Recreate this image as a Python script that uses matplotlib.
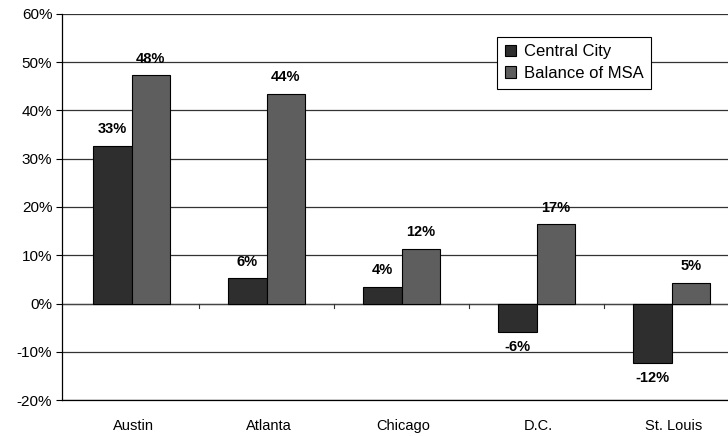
import numpy as np
import matplotlib.pyplot as plt

cities = ['Austin', 'Atlanta', 'Chicago', 'D.C.', 'St. Louis']
central_city = [32.7, 5.2, 3.5, -5.9, -12.3]
balance_msa = [47.3, 43.5, 11.3, 16.4, 4.3]
central_labels = ['33%', '6%', '4%', '-6%', '-12%']
balance_labels = ['48%', '44%', '12%', '17%', '5%']
yticks = [-20, -10, 0, 10, 20, 30, 40, 50, 60]

plt.rcParams['font.family'] = ['Liberation Sans', 'DejaVu Sans']

fig = plt.figure(figsize=(7.28, 4.36), dpi=100)
# plot area runs a little past the right edge of the picture, as in the original
ax = fig.add_axes([62 / 728, 36 / 436, 677 / 728, 386 / 436])

x = np.arange(len(cities))
w = 0.286
b1 = ax.bar(x - w / 2, central_city, w, color='#2e2e2e', edgecolor='black',
            linewidth=0.8, label='Central City', zorder=3)
b2 = ax.bar(x + w / 2, balance_msa, w, color='#5e5e5e', edgecolor='black',
            linewidth=0.8, label='Balance of MSA', zorder=3)

for bars, labels in ((b1, central_labels), (b2, balance_labels)):
    for rect, lab in zip(bars, labels):
        h = rect.get_height()
        off = 12 if h >= 0 else -11
        ax.annotate(lab, (rect.get_x() + rect.get_width() / 2, h),
                    xytext=(0, off), textcoords='offset points',
                    ha='center', va='center', fontsize=10.5, fontweight='bold',
                    zorder=4)

ax.set_xlim(-0.515, len(cities) - 0.5)
ax.set_ylim(-20, 60)
ax.set_yticks(yticks)
ax.set_yticklabels([f'{t}%' for t in yticks], fontsize=11)
ax.yaxis.grid(True, color='#333333', linewidth=0.9, zorder=0)
ax.tick_params(axis='y', length=4, width=0.8, pad=3)

# category names under the plot, small ticks at group boundaries on the zero line
ax.set_xticks([])
for i, c in enumerate(cities):
    ax.annotate(c, (i, -20), xytext=(1.5, -19), textcoords='offset points',
                ha='center', va='center', fontsize=10.5, annotation_clip=False)
ax.axhline(0, color='#444444', linewidth=0.9, zorder=2)
for b in np.arange(0.5, len(cities) - 0.5, 1.0):
    ax.plot([b, b], [0, -0.9], color='#333333', linewidth=0.8, zorder=2)

for s in ('right', 'top'):
    ax.spines[s].set_visible(False)
ax.spines['left'].set_linewidth(0.9)
ax.spines['bottom'].set_linewidth(0.9)

leg = ax.legend(loc='upper left', bbox_to_anchor=(435 / 677, 1 - 23 / 386),
                fontsize=12, frameon=True, fancybox=False, edgecolor='black',
                framealpha=1, handlelength=0.7, handleheight=0.7,
                handletextpad=0.45, borderpad=0.45, labelspacing=0.4,
                borderaxespad=0)
leg.get_frame().set_linewidth(0.8)
leg.set_zorder(5)

fig.savefig('out.png', dpi=100)
